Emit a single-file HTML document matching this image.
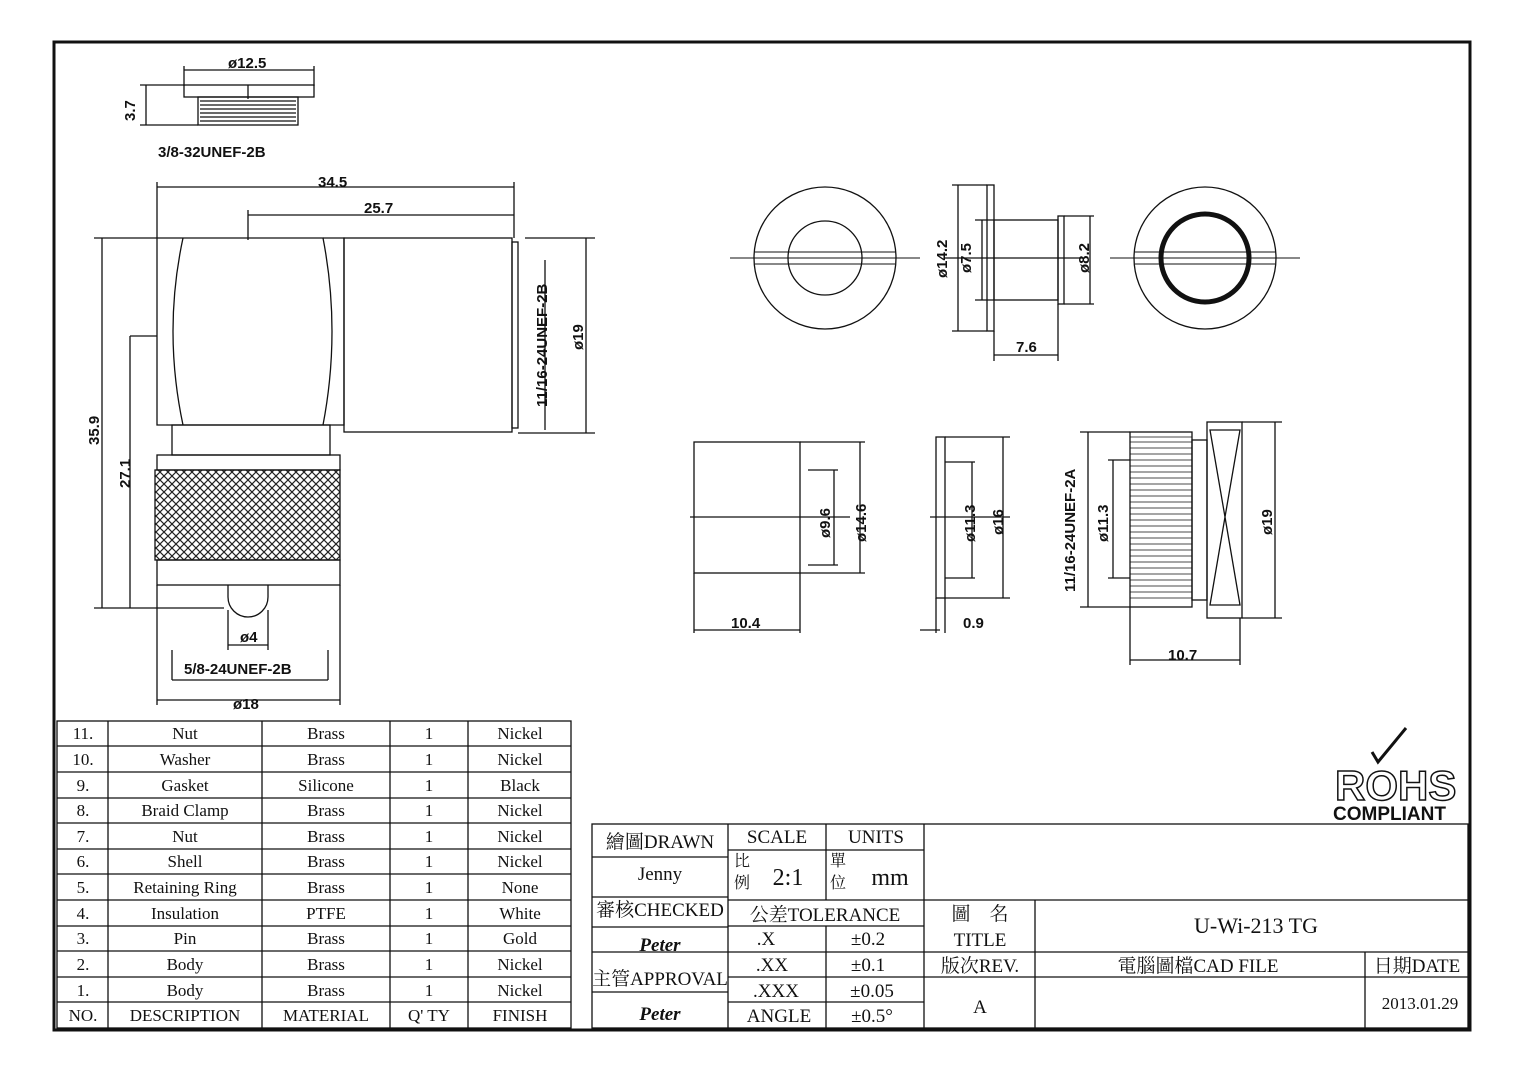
<!DOCTYPE html>
<html><head><meta charset="utf-8"><style>
body{margin:0;background:#fff}
svg{display:block}
text{font-family:"Liberation Serif","Noto Serif CJK SC",serif;fill:#111}
.s{font-family:"Liberation Sans","Noto Sans CJK SC",sans-serif;font-weight:bold}
</style></head><body>
<svg width="1520" height="1075" viewBox="0 0 1520 1075" xmlns="http://www.w3.org/2000/svg">
<defs>
<pattern id="kn" width="8" height="8" patternUnits="userSpaceOnUse">
<path d="M0 0L8 8M8 0L0 8" stroke="#222" stroke-width="1.2"/>
</pattern>
</defs>
<g fill="none" stroke="#111" stroke-width="1.3">
<rect x="54" y="42" width="1416" height="988" stroke-width="3"/>
<!-- top cap view -->
<rect x="184" y="85" width="130" height="12"/>
<rect x="198" y="97" width="100" height="28"/>
<path d="M200 101h96M200 105h96M200 109h96M200 113h96M200 117h96M200 121h96"/>
<path d="M184 70h130M184 66v20M314 66v20M140 85h44M140 125h58M146 85v40"/>
<path d="M248 85v14"/>
<!-- main body -->
<path d="M157 238h26q-20 93 0 187h-26zM183 238h140q18 93 0 187h-140"/>
<path d="M323 238h21v187h-21"/>
<rect x="344" y="238" width="168" height="194"/>
<rect x="512" y="242" width="6" height="186"/>
<rect x="172" y="425" width="158" height="30"/>
<rect x="157" y="455" width="183" height="15"/>
<rect x="155" y="470" width="185" height="90" fill="url(#kn)"/>
<rect x="157" y="560" width="183" height="25"/>
<path d="M228 585v12a20 20 0 0 0 40 0v-12"/>
<!-- dims main -->
<path d="M157 187h357M157 182v56M514 182v56M248 215h266M248 210v30"/>
<path d="M94 238h63M102 238v370M94 608h130M130 336h27M130 336v272"/>
<path d="M525 238h70M586 238v195M518 433h77M545 260v170"/>
<path d="M157 585v120M340 585v120M157 700h183M172 650v30M328 650v30M172 680h156M228 610v40M268 610v40M228 645h40"/>
<!-- circles -->
<circle cx="825" cy="258" r="71"/><circle cx="825" cy="258" r="37"/>
<path d="M755 252h140M755 264h140M730 258h190" stroke-width="1"/>
<circle cx="1205" cy="258" r="71"/><circle cx="1205" cy="258" r="44" stroke-width="5"/>
<path d="M1135 252h140M1135 264h140M1110 258h190" stroke-width="1"/>
<!-- side washer -->
<rect x="987" y="185" width="7" height="146"/>
<rect x="994" y="220" width="64" height="80"/>
<rect x="1058" y="216" width="6" height="88"/>
<path d="M945 258h140M952 185h35M952 331h35M975 220h19M975 300h19M1064 216h30M1064 304h30M958 185v146M982 220v80M1090 216v88M994 331v30M1058 304v57M994 355h64"/>
<!-- lower views -->
<rect x="694" y="442" width="106" height="131"/>
<path d="M690 517h160M800 442h65M800 573h65M808 470h30M808 565h30M860 442v131M834 470v95M694 573v60M800 573v60M694 630h106"/>
<rect x="936" y="437" width="9" height="161"/>
<path d="M930 517h80M945 437h65M945 598h65M945 462h30M945 578h30M1003 437v161M972 462v116M936 598v35M945 598v35M920 630h20"/>
<rect x="1130" y="432" width="62" height="175"/>
<path d="M1130 437h62M1130 442h62M1130 448h62M1130 454h62M1130 460h62M1130 466h62M1130 472h62M1130 478h62M1130 484h62M1130 490h62M1130 496h62M1130 502h62M1130 508h62M1130 514h62M1130 520h62M1130 526h62M1130 532h62M1130 538h62M1130 544h62M1130 550h62M1130 556h62M1130 562h62M1130 568h62M1130 574h62M1130 580h62M1130 586h62M1130 592h62M1130 598h62" stroke-width="0.8"/>
<rect x="1192" y="440" width="15" height="160"/>
<rect x="1207" y="422" width="35" height="196"/>
<path d="M1210 430h30l-15 87zM1210 605h30l-15-88z"/>
<path d="M1080 432h50M1080 607h50M1108 460h22M1108 578h22M1088 432v175M1113 460v118M1242 422h40M1242 618h40M1275 422v196M1130 607v58M1240 618v47M1130 660h110"/>
<!-- parts table -->
<rect x="57" y="721" width="514" height="307"/>
<path d="M57 746h514M57 772h514M57 798h514M57 823h514M57 849h514M57 874h514M57 900h514M57 926h514M57 951h514M57 977h514M57 1002h514"/>
<path d="M108 721v307M262 721v307M390 721v307M468 721v307"/>
<!-- title block -->
<rect x="592" y="824" width="876" height="204"/>
<path d="M728 824v204M826 824v76M826 926v102M924 824v204M1035 900v128M1365 952v76"/>
<path d="M592 857h136M592 897h136M592 927h136M592 952h136M592 992h136M728 850h196M728 900h740M728 926h196M728 952h196M728 977h196M728 1002h196M924 952h544M924 977h544"/>
</g>
<!-- ROHS -->
<text x="1335" y="800" class="s" font-size="42" font-weight="normal" fill="none" stroke="#111" stroke-width="1.5" style="fill:none">ROHS</text>
<path d="M1372 752l6 10 28-34" fill="none" stroke="#111" stroke-width="3"/>
<text x="1333" y="820" class="s" font-size="19">COMPLIANT</text>
<!-- dimension text -->
<g class="s" font-size="15">
<text x="228" y="68" class="s">ø12.5</text>
<text x="158" y="157" class="s">3/8-32UNEF-2B</text>
<text x="318" y="187" class="s">34.5</text>
<text x="364" y="213" class="s">25.7</text>
<text x="240" y="642" class="s">ø4</text>
<text x="184" y="674" class="s">5/8-24UNEF-2B</text>
<text x="233" y="709" class="s">ø18</text>
<text x="1016" y="352" class="s">7.6</text>
<text x="731" y="628" class="s">10.4</text>
<text x="963" y="628" class="s">0.9</text>
<text x="1168" y="660" class="s">10.7</text>
</g>
<g class="s" font-size="15">
<text class="s" transform="translate(135,121) rotate(-90)">3.7</text>
<text class="s" transform="translate(99,445) rotate(-90)">35.9</text>
<text class="s" transform="translate(130,488) rotate(-90)">27.1</text>
<text class="s" transform="translate(547,407) rotate(-90)">11/16-24UNEF-2B</text>
<text class="s" transform="translate(583,350) rotate(-90)">ø19</text>
<text class="s" transform="translate(947,278) rotate(-90)">ø14.2</text>
<text class="s" transform="translate(971,273) rotate(-90)">ø7.5</text>
<text class="s" transform="translate(1089,273) rotate(-90)">ø8.2</text>
<text class="s" transform="translate(830,538) rotate(-90)">ø9.6</text>
<text class="s" transform="translate(866,542) rotate(-90)">ø14.6</text>
<text class="s" transform="translate(975,542) rotate(-90)">ø11.3</text>
<text class="s" transform="translate(1003,535) rotate(-90)">ø16</text>
<text class="s" transform="translate(1075,592) rotate(-90)">11/16-24UNEF-2A</text>
<text class="s" transform="translate(1108,542) rotate(-90)">ø11.3</text>
<text class="s" transform="translate(1272,535) rotate(-90)">ø19</text>
</g>
<!-- parts table text -->
<g font-size="17" text-anchor="middle">
<text x="83" y="739">11.</text><text x="185" y="739">Nut</text><text x="326" y="739">Brass</text><text x="429" y="739">1</text><text x="520" y="739">Nickel</text>
<text x="83" y="765">10.</text><text x="185" y="765">Washer</text><text x="326" y="765">Brass</text><text x="429" y="765">1</text><text x="520" y="765">Nickel</text>
<text x="83" y="791">9.</text><text x="185" y="791">Gasket</text><text x="326" y="791">Silicone</text><text x="429" y="791">1</text><text x="520" y="791">Black</text>
<text x="83" y="816">8.</text><text x="185" y="816">Braid Clamp</text><text x="326" y="816">Brass</text><text x="429" y="816">1</text><text x="520" y="816">Nickel</text>
<text x="83" y="842">7.</text><text x="185" y="842">Nut</text><text x="326" y="842">Brass</text><text x="429" y="842">1</text><text x="520" y="842">Nickel</text>
<text x="83" y="867">6.</text><text x="185" y="867">Shell</text><text x="326" y="867">Brass</text><text x="429" y="867">1</text><text x="520" y="867">Nickel</text>
<text x="83" y="893">5.</text><text x="185" y="893">Retaining Ring</text><text x="326" y="893">Brass</text><text x="429" y="893">1</text><text x="520" y="893">None</text>
<text x="83" y="919">4.</text><text x="185" y="919">Insulation</text><text x="326" y="919">PTFE</text><text x="429" y="919">1</text><text x="520" y="919">White</text>
<text x="83" y="944">3.</text><text x="185" y="944">Pin</text><text x="326" y="944">Brass</text><text x="429" y="944">1</text><text x="520" y="944">Gold</text>
<text x="83" y="970">2.</text><text x="185" y="970">Body</text><text x="326" y="970">Brass</text><text x="429" y="970">1</text><text x="520" y="970">Nickel</text>
<text x="83" y="996">1.</text><text x="185" y="996">Body</text><text x="326" y="996">Brass</text><text x="429" y="996">1</text><text x="520" y="996">Nickel</text>
<text x="83" y="1021">NO.</text><text x="185" y="1021">DESCRIPTION</text><text x="326" y="1021">MATERIAL</text><text x="429" y="1021">Q' TY</text><text x="520" y="1021">FINISH</text>
</g>
<!-- title block text -->
<g font-size="19" text-anchor="middle">
<text x="660" y="848" font-family="Liberation Sans,Noto Sans CJK TC,sans-serif">繪圖DRAWN</text>
<text x="660" y="880">Jenny</text>
<text x="660" y="916" font-family="Liberation Sans,Noto Sans CJK TC,sans-serif">審核CHECKED</text>
<text x="660" y="951" font-style="italic" font-weight="bold">Peter</text>
<text x="660" y="985" font-family="Liberation Sans,Noto Sans CJK TC,sans-serif">主管APPROVAL</text>
<text x="660" y="1020" font-style="italic" font-weight="bold">Peter</text>
<text x="777" y="843">SCALE</text><text x="876" y="843">UNITS</text>
<text x="742" y="866" font-size="16">比</text><text x="742" y="888" font-size="16">例</text>
<text x="788" y="885" font-size="24">2:1</text>
<text x="838" y="866" font-size="16">單</text><text x="838" y="888" font-size="16">位</text>
<text x="890" y="885" font-size="24">mm</text>
<text x="825" y="921">公差TOLERANCE</text>
<text x="766" y="945">.X</text><text x="868" y="945">±0.2</text>
<text x="772" y="971">.XX</text><text x="868" y="971">±0.1</text>
<text x="776" y="997">.XXX</text><text x="872" y="997">±0.05</text>
<text x="779" y="1022">ANGLE</text><text x="872" y="1022">±0.5°</text>
<text x="980" y="920">圖　名</text><text x="980" y="946">TITLE</text>
<text x="980" y="972">版次REV.</text>
<text x="980" y="1013">A</text>
<text x="1256" y="933" font-size="22">U-Wi-213 TG</text>
<text x="1198" y="972">電腦圖檔CAD FILE</text>
<text x="1417" y="972">日期DATE</text>
<text x="1420" y="1009" font-size="17">2013.01.29</text>
</g>
</svg>
</body></html>
